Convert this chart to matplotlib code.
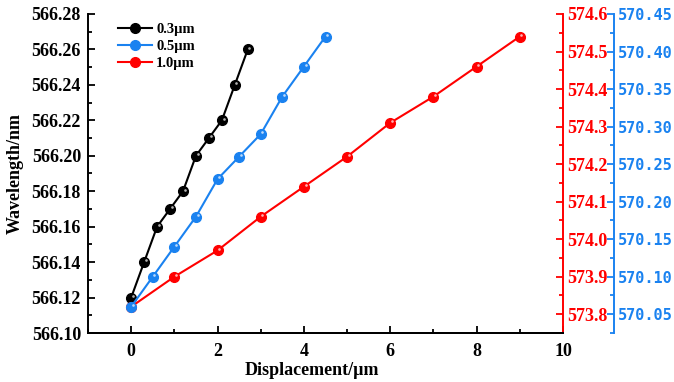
import matplotlib
matplotlib.use('Agg')
import matplotlib.pyplot as plt
from matplotlib.ticker import MultipleLocator, FormatStrFormatter
from matplotlib.transforms import offset_copy

# values
x_03 = [0, 0.3, 0.6, 0.9, 1.2, 1.5, 1.8, 2.1, 2.4, 2.7]
wl_03 = [566.12, 566.14, 566.16, 566.17, 566.18, 566.20, 566.21, 566.22, 566.24, 566.26]
x_05 = [0, 0.5, 1.0, 1.5, 2.0, 2.5, 3.0, 3.5, 4.0, 4.5]
wl_05 = [570.06, 570.10, 570.14, 570.18, 570.23, 570.26, 570.29, 570.34, 570.38, 570.42]
x_10 = [0, 1, 2, 3, 4, 5, 6, 7, 8, 9]
wl_10 = [573.82, 573.90, 573.97, 574.06, 574.14, 574.22, 574.31, 574.38, 574.46, 574.54]
labels = ['0.3µm', '0.5µm', '1.0µm']

c_black = 'black'
c_blue = '#1a82f0'
c_red = '#ff0000'

plt.rcParams['font.family'] = ['Liberation Serif', 'DejaVu Serif']
plt.rcParams['font.weight'] = 'bold'
plt.rcParams['axes.labelweight'] = 'bold'

fig = plt.figure(figsize=(6.74, 3.82), dpi=100)
ax = fig.add_axes([88/674, 1-333/382, 475/674, 319/382])
ax_r = ax.twinx()
ax_b = ax.twinx()
ax_b.spines['right'].set_position(('axes', (614-88)/475))


def draw(a, x, y, col, lab):
    ln, = a.plot(x, y, '-o', color=col, lw=1.5, ms=7, mfc=col, mec=col, label=lab)
    # small shine on each ball
    tr = offset_copy(a.transData, fig=fig, x=1.2, y=1.2, units='points')
    a.plot(x, y, 'o', ms=1.9, color='white', alpha=0.7, mew=0, transform=tr)
    return ln


h1 = draw(ax, x_03, wl_03, c_black, labels[0])
h3 = draw(ax_r, x_10, wl_10, c_red, labels[2])
h2 = draw(ax_b, x_05, wl_05, c_blue, labels[1])

ax.set_xlim(-1, 10)
ax.set_ylim(566.10, 566.28)
ax_r.set_ylim(573.75, 574.6)
ax_b.set_ylim(570.025, 570.45)

ax.xaxis.set_major_locator(MultipleLocator(2))
ax.xaxis.set_minor_locator(MultipleLocator(1))
ax.yaxis.set_major_locator(MultipleLocator(0.02))
ax.yaxis.set_minor_locator(MultipleLocator(0.01))
ax.yaxis.set_major_formatter(FormatStrFormatter('%.2f'))
ax_r.yaxis.set_major_locator(MultipleLocator(0.1))
ax_r.yaxis.set_minor_locator(MultipleLocator(0.05))
ax_r.yaxis.set_major_formatter(FormatStrFormatter('%.1f'))
ax_b.yaxis.set_major_locator(MultipleLocator(0.05))
ax_b.yaxis.set_minor_locator(MultipleLocator(0.025))
ax_b.yaxis.set_major_formatter(FormatStrFormatter('%.2f'))

for a in (ax, ax_r, ax_b):
    a.spines['top'].set_visible(False)
    for s in a.spines.values():
        s.set_linewidth(1.4)

ax.spines['right'].set_visible(False)
ax_r.spines['left'].set_visible(False)
ax_b.spines['left'].set_visible(False)
ax_r.spines['right'].set_color(c_red)
ax_b.spines['right'].set_color(c_blue)

ax.tick_params(which='both', direction='in', width=1.3, labelsize=13, pad=5)
ax.tick_params(which='major', length=5)
ax.tick_params(which='minor', length=3)
ax.tick_params(axis='x', pad=7)
ax_r.tick_params(which='both', direction='in', width=1.3, colors=c_red, labelsize=13, pad=3)
ax_r.tick_params(which='major', length=5)
ax_r.tick_params(which='minor', length=3)
ax_b.tick_params(which='both', direction='in', width=1.3, colors=c_blue, labelsize=11, pad=3)
ax_b.tick_params(which='major', length=5)
ax_b.tick_params(which='minor', length=3)
for t in ax_b.get_yticklabels():
    t.set_family('DejaVu Sans Mono')
    t.set_weight('bold')

ax.set_xlabel('Displacement/µm', fontsize=13)
ax.xaxis.set_label_coords((312-88)/475, -0.09)
ax.set_ylabel('Wavelength/nm', fontsize=13)
ax.yaxis.set_label_coords(-0.135, 0.5)

ax_b.legend([h1, h2, h3], labels, loc='upper left', bbox_to_anchor=(0.045, 1.0),
            frameon=False, fontsize=10.5, handlelength=2.3, handletextpad=0.3,
            labelspacing=0.25, borderaxespad=0.2)

fig.savefig('out.png', dpi=100)
